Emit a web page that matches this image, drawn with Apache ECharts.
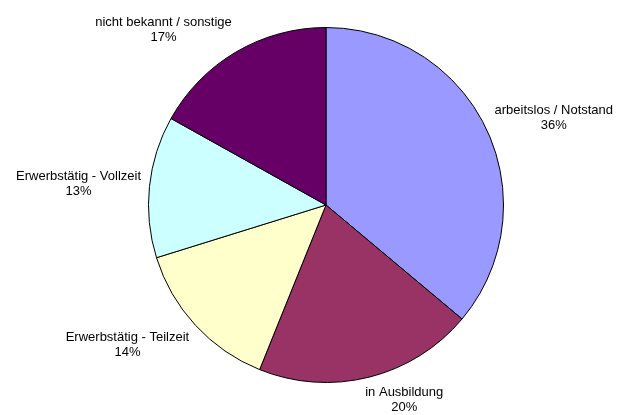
<!DOCTYPE html>
<html>
<head>
<meta charset="utf-8">
<title>Pie</title>
<script src="https://cdn.jsdelivr.net/npm/echarts@6/dist/echarts.min.js"></script>
<style>
    html, body { margin: 0; padding: 0; background: #fff; }
    #pieMap { width: 628px; height: 415px; }
</style>
</head>
<body>
<div id="pieMap"></div>
<script>
    var categories = ['arbeitslos / Notstand', 'in Ausbildung', 'Erwerbstätig - Teilzeit', 'Erwerbstätig - Vollzeit', 'nicht bekannt / sonstige'];
    var values = [36.1, 20.0, 14.1, 12.9, 16.9];
    var colors = ['#9999FF', '#993366', '#FFFFCC', '#CCFFFF', '#660066'];

    var cx = 326, cy = 205, radius = 177.5;
    var labelDist = 186;
    var chartH = 415;

    var total = values.reduce(function (a, b) { return a + b; }, 0);

    // mitte jedes Segments (Winkel von 12 Uhr, im Uhrzeigersinn)
    function midAngle(idx) {
        var acc = 0;
        for (var i = 0; i < idx; i++) acc += values[i];
        return (acc + values[idx] / 2) / total * Math.PI * 2;
    }

    function clamp1(v) {
        return Math.max(-1, Math.min(1, v));
    }

    var chart = echarts.init(document.getElementById('pieMap'));
    var options = {
        animation: false,
        series: [{
            type: 'pie',
            center: [cx, cy],
            radius: radius,
            startAngle: 90,
            clockwise: true,
            percentPrecision: 0,
            itemStyle: {
                borderColor: '#000',
                borderWidth: 1
            },
            label: {
                show: true,
                position: 'outside',
                formatter: '{b}\n{d}%',
                fontFamily: 'Liberation Sans, Arial, sans-serif',
                fontSize: 13,
                lineHeight: 15,
                color: '#000',
                align: 'center',
                overflow: 'none'
            },
            labelLine: { show: false },
            labelLayout: function (params) {
                // Excel-artig: naechste Ecke des Labels sitzt knapp ausserhalb des Kreises
                var a = midAngle(params.dataIndex);
                var ux = Math.sin(a), uy = -Math.cos(a);
                var w = params.labelRect.width, h = params.labelRect.height;
                var dx = ux * labelDist + clamp1(ux * 3.5) * w / 2;
                var dy = uy * labelDist + clamp1(uy * 1.4) * h / 2;
                var maxDy = chartH - h / 2 - cy;
                if (dy > maxDy) {
                    dy = maxDy;
                }
                return {
                    x: cx + dx,
                    y: cy + dy,
                    align: 'center',
                    verticalAlign: 'middle'
                };
            },
            emphasis: { disabled: true },
            data: categories.map(function (name, i) {
                return { name: name, value: values[i], itemStyle: { color: colors[i] } };
            })
        }]
    };
    chart.setOption(options, true);
</script>
</body>
</html>
